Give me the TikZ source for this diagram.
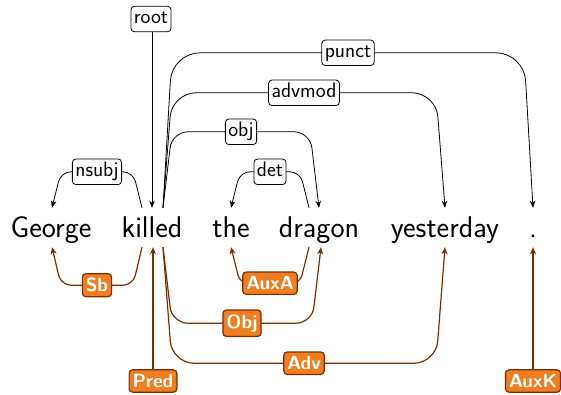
\documentclass[tikz,border=0pt]{standalone}
\usepackage{fontspec}
\usepackage{tikz}
\usetikzlibrary{arrows.meta,positioning}
\definecolor{tagline}{RGB}{124,45,4}
\definecolor{tagfill}{RGB}{240,125,32}

\begin{document}
\begin{tikzpicture}[x=1pt, y=-1pt,
    word/.style={font=\sffamily\fontsize{30}{32}\selectfont, anchor=base,
      inner xsep=0pt, inner ysep=3pt, text height=26pt, text depth=7pt},
    deplbl/.style={draw, fill=white, rounded corners=3.5pt, line width=0.8pt,
      font=\sffamily\fontsize{21}{23}\selectfont, inner xsep=3pt,
      inner ysep=3.5pt, text height=14pt, text depth=4.5pt},
    tag/.style={draw=tagline, fill=tagfill, rounded corners=3.5pt,
      line width=1.2pt, text=white, inner xsep=3.5pt, inner ysep=4.5pt,
      font=\sffamily\bfseries\fontsize{19}{21}\selectfont},
    dep/.style={-{Stealth[length=7pt,width=5.5pt,inset=2pt]}, line width=0.8pt},
    ana/.style={-{Stealth[length=7pt,width=6pt,inset=2pt]}, line width=1.2pt,
      draw=tagline},
  ]
  \useasboundingbox (0,0) rectangle (561,395);

  % Words
  \node[word] (george) at (51,237) {George};
  \node[word] (killed) at (152,237) {killed};
  \node[word] (the) at (231,237) {the};
  \node[word] (dragon) at (319,237) {dragon};
  \node[word] (yesterday) at (445,237) {yesterday};
  \node[word] (dot) at (533,237) {.};

  % Top: dependency arcs
  \node[deplbl] (root) at (151,19) {root};
  \draw[dep] (root.south -| killed.north) -- (killed.north);
  \draw[dep, rounded corners=10pt] ([xshift=-10pt]killed.north) -- ++(-9,-36)
    -- node[deplbl] {nsubj} ++(-72,0) -- ([xshift=1pt]george.north);
  \draw[dep, rounded corners=28pt] ([xshift=11pt]killed.north) -- ++(9,-155)
    -- node[deplbl] {punct} ++(352,0) -- (dot.north);
  \draw[dep, rounded corners=24pt] ([xshift=11pt]killed.north) -- ++(9,-115)
    -- node[deplbl] {advmod} ++(264,0) -- (yesterday.north);
  \draw[dep, rounded corners=16pt] ([xshift=11pt]killed.north) -- ++(9,-76)
    -- node[deplbl] {obj} ++(138,0) -- (dragon.north);
  \draw[dep, rounded corners=10pt] ([xshift=-10pt]dragon.north) -- ++(-9,-36)
    -- node[deplbl] {det} ++(-60,0) -- (the.north);

  % Bottom: analytical functions
  \draw[ana, rounded corners=10pt] ([xshift=-10pt]killed.south) -- ++(-9,38)
    -- node[tag] {Sb} ++(-72,0) -- ([xshift=1pt]george.south);
  \draw[ana, rounded corners=8pt] ([xshift=-10pt]dragon.south) -- ++(-9,36)
    -- node[tag] {AuxA} ++(-60,0) -- (the.south);
  \draw[ana, rounded corners=16pt] ([xshift=11pt]killed.south) -- ++(9,76)
    -- node[tag] {Obj} ++(140,0) -- ([xshift=2pt]dragon.south);
  \draw[ana, rounded corners=22pt] ([xshift=11pt]killed.south) -- ++(9,116)
    -- node[tag] {Adv} ++(264,0) -- (yesterday.south);
  \node[tag] (pred) at (153,381) {Pred};
  \draw[ana] (pred) -- ([xshift=1pt]killed.south);
  \node[tag] (auxk) at (533,381) {AuxK};
  \draw[ana] (auxk) -- (dot.south);
\end{tikzpicture}
\end{document}
